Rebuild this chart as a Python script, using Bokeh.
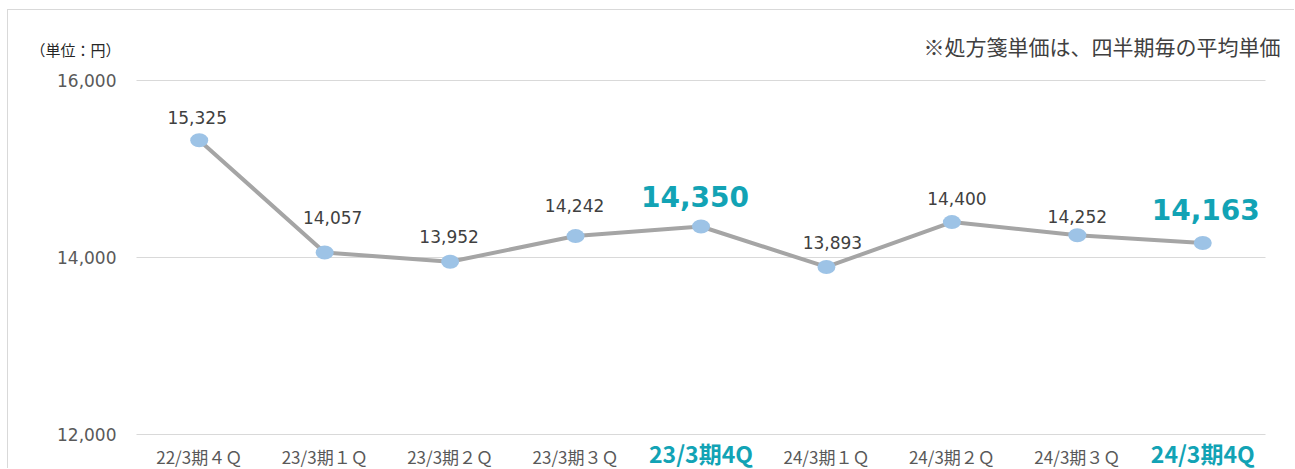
from bokeh.plotting import figure
from bokeh.models import ColumnDataSource, LabelSet, Range1d
from bokeh.core.properties import value
from bokeh.embed import file_html
from bokeh.resources import INLINE

# ---- data ----
categories = ["22/3期４Ｑ", "23/3期１Ｑ", "23/3期２Ｑ", "23/3期３Ｑ", "23/3期4Q",
              "24/3期１Ｑ", "24/3期２Ｑ", "24/3期３Ｑ", "24/3期4Q"]
values = [15325, 14057, 13952, 14242, 14350, 13893, 14400, 14252, 14163]
highlight = [False, False, False, False, True, False, False, False, True]
y_ticks = [12000, 14000, 16000]
y_tick_labels = ["12,000", "14,000", "16,000"]
unit_text = "（単位：円）"
note_text = "※処方箋単価は、四半期毎の平均単価"

# ---- styles / layout ----
TEAL = "#12a3b5"
NUM_FONT = value("DejaVu Sans")
JP_FONT = value("Noto Sans CJK JP")
GRID = "#d9d9d9"
lab_dx = [-2, 8, -1, -1, -6, 6, 5, 0, 3]
lab_dy = [23, 35, 25, 31, 30, 24, 24, 19, 34]

CANVAS_W, CANVAS_H = 1287, 459
PLOT_L, PLOT_R = 128, 1257      # pixel extent of the category bands
PLOT_T, PLOT_B = 70, 424        # pixel rows of top and bottom ticks

n = len(categories)
bw = (PLOT_R - PLOT_L) / n
x_range = Range1d(-PLOT_L / bw, n + (CANVAS_W - PLOT_R) / bw)
ppu = (PLOT_B - PLOT_T) / (y_ticks[-1] - y_ticks[0])
y_range = Range1d(y_ticks[0] - (CANVAS_H - PLOT_B) / ppu, y_ticks[-1] + PLOT_T / ppu)

xs = [i + 0.5 for i in range(n)]   # band centres of the categories

p = figure(width=CANVAS_W, height=CANVAS_H, x_range=x_range, y_range=y_range,
           output_backend="svg", toolbar_location=None,
           x_axis_location=None, y_axis_location=None, min_border=0,
           styles={"margin-left": "7px", "margin-top": "9px",
                   "border-left": f"1px solid {GRID}", "border-top": f"1px solid {GRID}"})
p.outline_line_color = None
p.background_fill_color = "white"
p.border_fill_color = "white"
p.xgrid.visible = False
p.ygrid.visible = False

# gridlines (incl. baseline)
p.segment(x0=[0] * len(y_ticks), x1=[n] * len(y_ticks), y0=y_ticks, y1=y_ticks,
          line_color=GRID, line_width=1)

# y tick labels
p.add_layout(LabelSet(x="x", y="y", text="t",
                      source=ColumnDataSource(dict(x=[0] * len(y_ticks), y=y_ticks, t=y_tick_labels)),
                      x_offset=-20, text_align="right", text_baseline="middle",
                      text_font=NUM_FONT, text_font_size="17px", text_color="#595959"))

# series
p.line(xs, values, line_color="#a5a5a5", line_width=4)
p.ellipse(x=xs, y=values, width=18, height=14, width_units="screen",
          height_units="screen", fill_color="#9dc3e6", line_color=None)

# value labels
norm_idx = [i for i, h in enumerate(highlight) if not h]
hi_idx = [i for i, h in enumerate(highlight) if h]

def sub(idx):
    return ColumnDataSource(dict(
        x=[xs[i] for i in idx], y=[values[i] for i in idx],
        t=[f"{values[i]:,}" for i in idx],
        dx=[lab_dx[i] for i in idx], dy=[lab_dy[i] for i in idx],
        c=[categories[i] for i in idx], y0=[y_ticks[0]] * len(idx)))

src_norm, src_hi = sub(norm_idx), sub(hi_idx)

p.add_layout(LabelSet(x="x", y="y", text="t", source=src_norm, x_offset="dx", y_offset="dy",
                      text_align="center", text_baseline="middle", text_font=NUM_FONT,
                      text_font_size="17px", text_color="#404040"))
p.add_layout(LabelSet(x="x", y="y", text="t", source=src_hi, x_offset="dx", y_offset="dy",
                      text_align="center", text_baseline="middle", text_font=NUM_FONT,
                      text_font_size="28px", text_font_style="bold", text_color=TEAL))

# category labels
p.add_layout(LabelSet(x="x", y="y0", text="c", source=src_norm, y_offset=-22,
                      text_align="center", text_baseline="middle", text_font=JP_FONT,
                      text_font_size="17px", text_color="#595959"))
p.add_layout(LabelSet(x="x", y="y0", text="c", source=src_hi, y_offset=-18,
                      text_align="center", text_baseline="middle", text_font=JP_FONT,
                      text_font_size="23px", text_font_style="bold", text_color=TEAL))

# unit label & note
p.add_layout(LabelSet(x="x", y="y", text="t",
                      source=ColumnDataSource(dict(x=[0], y=[y_ticks[-1]], t=[unit_text])),
                      x_offset=-61, y_offset=31, text_align="center", text_baseline="middle",
                      text_font=JP_FONT, text_font_size="15px", text_color="#262626"))
p.add_layout(LabelSet(x="x", y="y", text="t",
                      source=ColumnDataSource(dict(x=[n], y=[y_ticks[-1]], t=[note_text])),
                      x_offset=15, y_offset=35, text_align="right", text_baseline="middle",
                      text_font=JP_FONT, text_font_size="21px", text_color="#404040"))

open("out.html", "w").write(file_html(p, INLINE))
